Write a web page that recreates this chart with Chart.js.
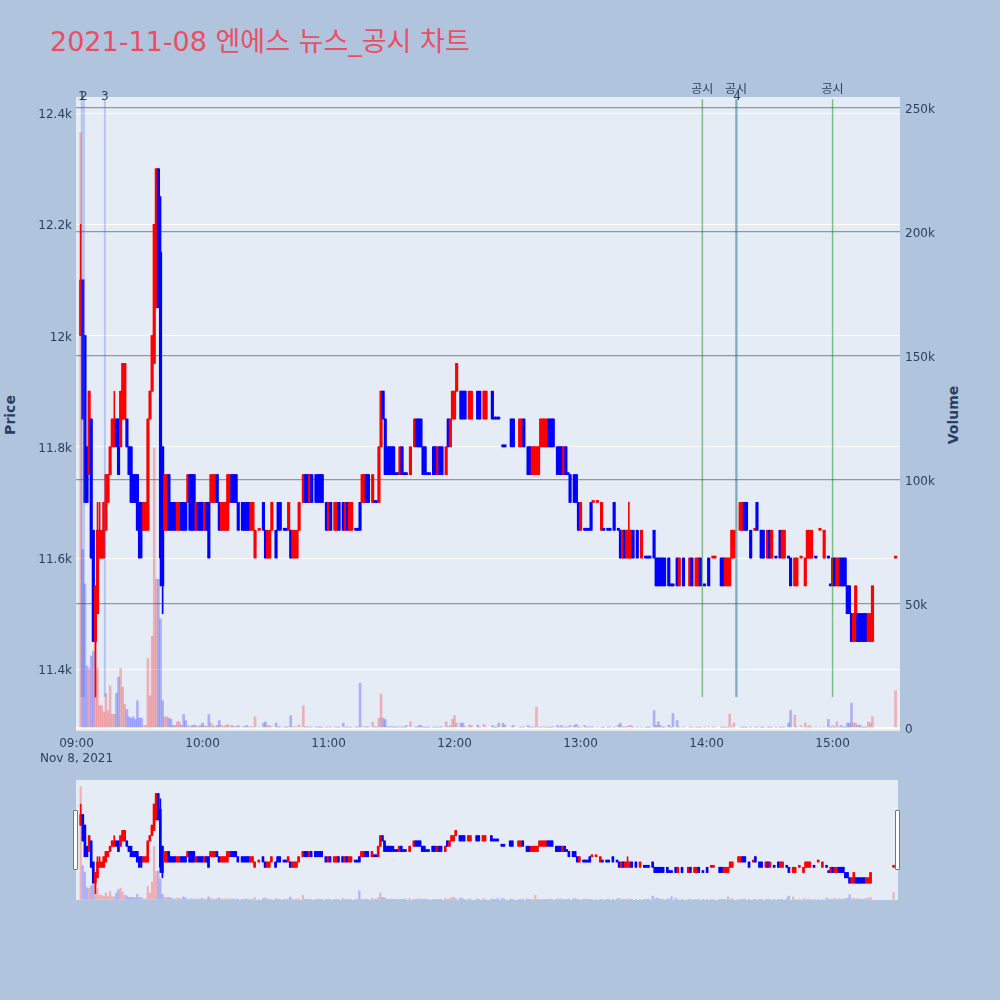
<!DOCTYPE html>
<html lang="ko">
<head>
<meta charset="utf-8">
<title>엔에스 뉴스_공시 차트</title>
<script src="https://cdn.jsdelivr.net/npm/chart.js@4.4.1/dist/chart.umd.min.js"></script>
<style>
  body { margin: 0; background: #b0c4de; font-family: "DejaVu Sans", "Noto Sans CJK KR", sans-serif; }
  #wrap { position: relative; width: 1000px; height: 1000px; overflow: hidden; }
  #title { position: absolute; left: 50px; top: 26px; font-size: 27px; line-height: 32px; color: rgb(235, 78, 100); white-space: nowrap; }
  .axis-title { position: absolute; font-size: 14px; font-weight: bold; color: #2a3f5f; transform: translate(-50%, -50%) rotate(-90deg); white-space: nowrap; }
  #mainChart { position: absolute; left: 0; top: 0; }
  #sliderChart { position: absolute; left: 76px; top: 780px; background: #e5ecf6; }
  .handle { position: absolute; top: 810px; width: 3px; height: 58px; background: #fff; border: 1px solid #777; border-radius: 1px; }
</style>
</head>
<body>
<div id="wrap">
  <div id="title">2021-11-08 엔에스 뉴스_공시 차트</div>
  <div class="axis-title" style="left:10px; top:415px;">Price</div>
  <div class="axis-title" style="left:953px; top:415px;">Volume</div>
  <canvas id="mainChart" width="1000" height="770"></canvas>
  <canvas id="sliderChart" width="822" height="120"></canvas>
  <div class="handle" style="left:73px;"></div>
  <div class="handle" style="left:895px;"></div>
</div>
<script>
// minute candles (time, open, high, low, close, volume)
var times = [
  "09:02","09:03","09:04","09:05","09:06","09:07","09:08","09:09","09:10","09:11",
  "09:12","09:13","09:14","09:15","09:16","09:17","09:18","09:19","09:20","09:21",
  "09:22","09:23","09:24","09:25","09:26","09:27","09:28","09:29","09:30","09:31",
  "09:32","09:33","09:34","09:35","09:36","09:37","09:38","09:39","09:40","09:41",
  "09:42","09:43","09:44","09:45","09:46","09:47","09:48","09:49","09:50","09:51",
  "09:52","09:53","09:54","09:55","09:56","09:57","09:58","09:59","10:00","10:01",
  "10:02","10:03","10:04","10:05","10:06","10:07","10:08","10:09","10:10","10:11",
  "10:12","10:13","10:14","10:15","10:16","10:17","10:19","10:20","10:21","10:22",
  "10:23","10:24","10:25","10:27","10:29","10:30","10:31","10:32","10:33","10:35",
  "10:36","10:37","10:39","10:40","10:41","10:42","10:43","10:44","10:45","10:46",
  "10:48","10:49","10:50","10:51","10:52","10:54","10:55","10:56","10:57","10:59",
  "11:00","11:01","11:03","11:04","11:05","11:07","11:08","11:09","11:10","11:11",
  "11:13","11:14","11:15","11:16","11:17","11:18","11:19","11:21","11:22","11:23",
  "11:24","11:25","11:26","11:27","11:28","11:29","11:30","11:31","11:32","11:33",
  "11:34","11:35","11:36","11:37","11:39","11:41","11:42","11:43","11:44","11:45",
  "11:46","11:47","11:48","11:50","11:51","11:52","11:53","11:54","11:56","11:57",
  "11:58","11:59","12:00","12:01","12:03","12:04","12:05","12:07","12:08","12:11",
  "12:12","12:14","12:15","12:18","12:19","12:20","12:21","12:23","12:24","12:27",
  "12:28","12:31","12:32","12:33","12:35","12:36","12:37","12:38","12:39","12:40",
  "12:41","12:42","12:43","12:44","12:45","12:46","12:47","12:49","12:50","12:51",
  "12:52","12:53","12:54","12:55","12:57","12:58","12:59","13:00","13:02","13:03",
  "13:04","13:05","13:06","13:08","13:10","13:11","13:13","13:14","13:16","13:18",
  "13:19","13:20","13:21","13:22","13:23","13:24","13:25","13:27","13:29","13:31",
  "13:32","13:33","13:35","13:36","13:37","13:38","13:39","13:40","13:42","13:43",
  "13:44","13:46","13:47","13:49","13:52","13:53","13:55","13:56","13:57","13:59",
  "14:01","14:03","14:04","14:07","14:08","14:09","14:10","14:11","14:12","14:13",
  "14:16","14:17","14:18","14:19","14:21","14:23","14:24","14:26","14:27","14:29",
  "14:30","14:31","14:33","14:35","14:36","14:37","14:39","14:40","14:42","14:43",
  "14:45","14:47","14:48","14:49","14:50","14:52","14:54","14:56","14:58","14:59",
  "15:00","15:01","15:02","15:03","15:04","15:05","15:06","15:07","15:08","15:09",
  "15:10","15:11","15:12","15:13","15:14","15:15","15:16","15:17","15:18","15:19",
  "15:30"
];
var opens = [
  12000,12100,12000,11800,11750,11850,11650,11450,11500,11600,
  11600,11600,11650,11700,11750,11800,11800,11850,11850,11800,
  11850,11850,11850,11800,11800,11750,11750,11750,11700,11700,
  11650,11650,11650,11850,11900,11950,12050,12300,12150,11800,
  11650,11650,11750,11700,11700,11700,11650,11650,11700,11700,
  11700,11700,11750,11750,11750,11650,11700,11700,11700,11650,
  11700,11700,11700,11700,11700,11750,11700,11650,11650,11650,
  11650,11700,11750,11750,11750,11700,11700,11700,11700,11700,
  11650,11650,11600,11650,11700,11650,11600,11600,11650,11650,
  11700,11700,11650,11650,11650,11650,11600,11600,11600,11650,
  11700,11750,11750,11700,11750,11750,11750,11750,11750,11700,
  11650,11700,11650,11650,11700,11700,11650,11700,11650,11650,
  11650,11650,11700,11700,11700,11750,11750,11700,11700,11700,
  11700,11800,11900,11850,11800,11800,11800,11800,11750,11750,
  11750,11800,11750,11750,11750,11800,11850,11850,11850,11800,
  11800,11750,11750,11800,11800,11750,11800,11800,11750,11850,
  11800,11850,11850,11900,11900,11900,11900,11850,11850,11900,
  11900,11850,11850,11900,11850,11850,11850,11800,11800,11850,
  11850,11800,11800,11850,11800,11800,11750,11750,11750,11750,
  11800,11800,11800,11800,11850,11850,11850,11800,11800,11800,
  11750,11800,11750,11750,11750,11750,11700,11650,11650,11650,
  11650,11700,11700,11700,11650,11650,11650,11650,11700,11650,
  11650,11600,11650,11600,11600,11600,11650,11650,11600,11600,
  11600,11600,11650,11600,11600,11600,11600,11600,11600,11550,
  11550,11600,11550,11600,11550,11600,11550,11550,11600,11550,
  11600,11600,11600,11600,11600,11550,11550,11550,11600,11600,
  11650,11650,11700,11700,11650,11650,11700,11650,11650,11600,
  11650,11600,11600,11650,11600,11600,11600,11600,11550,11550,
  11600,11550,11600,11600,11600,11600,11650,11600,11600,11550,
  11550,11600,11550,11550,11600,11600,11600,11550,11550,11500,
  11450,11450,11500,11500,11500,11500,11500,11450,11450,11450,
  11600
];
var highs = [
  12200,12100,12000,11800,11900,11850,11650,11550,11700,11700,
  11650,11700,11750,11750,11800,11850,11900,11850,11850,11900,
  11950,11950,11850,11800,11800,11750,11750,11750,11700,11700,
  11700,11700,11850,11900,12000,12200,12300,12300,12250,11800,
  11750,11750,11750,11700,11700,11700,11700,11700,11700,11700,
  11700,11750,11750,11750,11750,11700,11700,11700,11700,11700,
  11700,11700,11750,11750,11750,11750,11700,11700,11700,11700,
  11750,11750,11750,11750,11750,11700,11700,11700,11700,11700,
  11700,11700,11650,11650,11700,11650,11650,11650,11700,11650,
  11700,11700,11650,11650,11700,11650,11650,11650,11650,11700,
  11750,11750,11750,11750,11750,11750,11750,11750,11750,11700,
  11700,11700,11700,11700,11700,11700,11700,11700,11700,11700,
  11650,11650,11700,11750,11750,11750,11750,11750,11700,11700,
  11800,11900,11900,11850,11800,11800,11800,11800,11750,11750,
  11800,11800,11750,11750,11800,11850,11850,11850,11850,11800,
  11800,11750,11750,11800,11800,11800,11800,11800,11800,11850,
  11850,11900,11900,11950,11900,11900,11900,11900,11900,11900,
  11900,11900,11900,11900,11850,11850,11850,11800,11800,11850,
  11850,11850,11850,11850,11800,11800,11800,11800,11800,11800,
  11850,11850,11850,11850,11850,11850,11850,11800,11800,11800,
  11800,11800,11750,11750,11750,11750,11700,11700,11650,11650,
  11650,11700,11700,11700,11700,11650,11650,11650,11700,11650,
  11650,11650,11650,11650,11700,11650,11650,11650,11650,11600,
  11600,11600,11650,11600,11600,11600,11600,11600,11600,11550,
  11550,11600,11600,11600,11600,11600,11600,11600,11600,11550,
  11600,11600,11600,11600,11600,11600,11600,11600,11650,11650,
  11700,11700,11700,11700,11650,11650,11700,11650,11650,11650,
  11650,11650,11600,11650,11650,11650,11600,11600,11600,11600,
  11600,11600,11650,11650,11650,11600,11650,11650,11600,11550,
  11600,11600,11600,11600,11600,11600,11600,11550,11550,11500,
  11500,11550,11500,11500,11500,11500,11500,11500,11500,11550,
  11600
];
var lows = [
  12000,11850,11700,11700,11750,11600,11450,11350,11500,11600,
  11600,11600,11650,11700,11750,11800,11800,11800,11750,11800,
  11850,11850,11800,11750,11700,11700,11700,11650,11600,11600,
  11650,11650,11650,11850,11900,11950,12050,12050,11550,11500,
  11650,11650,11650,11650,11650,11650,11650,11650,11650,11650,
  11650,11700,11650,11650,11650,11650,11650,11650,11650,11650,
  11650,11600,11700,11700,11700,11700,11650,11650,11650,11650,
  11650,11700,11700,11700,11700,11650,11650,11650,11650,11650,
  11650,11650,11600,11650,11650,11600,11600,11600,11650,11600,
  11650,11650,11650,11650,11650,11600,11600,11600,11600,11650,
  11700,11700,11700,11700,11700,11700,11700,11700,11700,11650,
  11650,11650,11650,11650,11650,11650,11650,11650,11650,11650,
  11650,11650,11650,11700,11700,11700,11700,11700,11700,11700,
  11700,11800,11850,11750,11750,11750,11750,11750,11750,11750,
  11750,11750,11750,11750,11750,11800,11800,11800,11800,11750,
  11750,11750,11750,11750,11750,11750,11750,11750,11750,11800,
  11800,11850,11850,11900,11850,11850,11850,11850,11850,11850,
  11850,11850,11850,11850,11850,11850,11850,11800,11800,11800,
  11800,11800,11800,11800,11750,11750,11750,11750,11750,11750,
  11800,11800,11800,11800,11800,11800,11800,11750,11750,11750,
  11750,11750,11750,11700,11700,11700,11650,11650,11650,11650,
  11650,11650,11700,11700,11650,11650,11650,11650,11650,11650,
  11600,11600,11600,11600,11600,11600,11600,11600,11600,11600,
  11600,11600,11600,11550,11550,11550,11550,11550,11550,11550,
  11550,11550,11550,11550,11550,11550,11550,11550,11550,11550,
  11550,11600,11600,11550,11550,11550,11550,11550,11600,11600,
  11650,11650,11650,11650,11600,11650,11650,11600,11600,11600,
  11600,11600,11600,11600,11600,11600,11600,11550,11550,11550,
  11600,11550,11600,11600,11600,11600,11650,11600,11600,11550,
  11550,11550,11550,11550,11550,11550,11550,11500,11500,11450,
  11450,11450,11450,11450,11450,11450,11450,11450,11450,11450,
  11600
];
var closes = [
  12100,11850,11700,11700,11900,11600,11450,11550,11650,11650,
  11650,11700,11750,11750,11800,11850,11850,11800,11750,11900,
  11950,11950,11800,11750,11700,11700,11700,11650,11600,11650,
  11700,11700,11850,11900,12000,12200,12300,12050,11600,11550,
  11750,11750,11650,11650,11650,11650,11700,11700,11650,11650,
  11650,11750,11650,11650,11650,11700,11650,11650,11650,11700,
  11650,11600,11750,11750,11750,11700,11650,11700,11700,11700,
  11750,11750,11700,11700,11700,11650,11650,11650,11650,11650,
  11700,11700,11650,11650,11650,11600,11650,11650,11700,11600,
  11650,11650,11650,11650,11700,11600,11650,11650,11650,11700,
  11750,11700,11700,11750,11700,11700,11700,11700,11700,11650,
  11700,11650,11700,11700,11650,11650,11700,11650,11700,11700,
  11650,11650,11650,11750,11750,11700,11700,11750,11700,11700,
  11800,11900,11850,11750,11750,11750,11750,11750,11750,11750,
  11800,11750,11750,11750,11800,11850,11800,11800,11800,11750,
  11750,11750,11750,11750,11750,11800,11750,11750,11800,11800,
  11850,11900,11900,11950,11850,11850,11850,11900,11900,11850,
  11850,11900,11900,11850,11850,11850,11850,11800,11800,11800,
  11800,11850,11850,11800,11750,11750,11800,11800,11800,11800,
  11850,11850,11850,11850,11800,11800,11800,11750,11750,11750,
  11800,11750,11750,11700,11700,11700,11650,11700,11650,11650,
  11650,11650,11700,11700,11700,11650,11650,11650,11650,11650,
  11600,11650,11600,11650,11650,11650,11600,11600,11650,11600,
  11600,11600,11600,11550,11550,11550,11550,11550,11550,11550,
  11550,11550,11600,11550,11600,11550,11600,11600,11550,11550,
  11550,11600,11600,11550,11550,11600,11600,11600,11650,11650,
  11700,11700,11650,11650,11600,11650,11650,11600,11600,11650,
  11600,11650,11600,11600,11650,11650,11600,11550,11600,11600,
  11600,11600,11650,11650,11650,11600,11650,11650,11600,11550,
  11600,11550,11600,11600,11550,11550,11550,11500,11500,11450,
  11500,11550,11450,11450,11450,11450,11450,11500,11500,11550,
  11600
];
var volumes = [
  240000,72000,58000,25000,24000,29000,31000,45000,24000,9000,
  9000,6500,14000,7000,17000,5500,5500,14000,20500,24000,
  16500,9500,7500,4500,4000,4500,3500,11000,4000,4000,
  1000,1000,28000,13000,37000,113000,60000,60000,44000,11000,
  4500,4500,4000,3500,1000,1000,2500,2500,1000,5500,
  3000,1000,500,1000,1200,1000,500,1000,2000,1000,
  500,5500,2000,1000,500,1000,3000,1000,500,1000,
  1500,500,1000,500,500,1000,500,500,1000,500,
  500,300,4500,300,2000,2500,1000,1000,500,2000,
  300,500,300,300,500,5000,500,500,500,1200,
  9000,500,300,500,300,300,500,300,300,300,
  500,300,300,300,300,2000,300,300,300,300,
  300,500,18000,500,300,500,300,2400,500,300,
  4000,13700,4000,3400,500,300,600,300,300,300,
  500,300,300,1000,2500,500,300,1000,1000,300,
  300,300,300,300,300,300,300,500,2500,500,
  1000,3500,5000,2000,2000,2000,500,1200,1000,1200,
  300,1500,500,1000,300,300,2000,2000,1200,500,
  1000,300,300,500,1000,300,300,300,8500,300,
  300,500,300,300,300,300,500,1000,300,1000,
  300,300,300,1000,1000,1500,300,300,1000,300,
  500,300,300,300,300,300,300,500,300,1200,
  2000,300,300,500,1000,1000,300,300,300,300,
  300,300,7000,1000,2500,1000,300,300,1200,300,
  5900,3000,300,300,300,300,300,300,300,300,
  500,300,300,300,300,300,300,5600,300,2000,
  300,300,300,300,300,300,300,300,300,300,
  300,300,300,300,300,300,2000,7000,5200,300,
  1000,2000,300,1000,300,300,300,300,3500,300,
  1000,300,2500,300,1000,300,300,2000,2000,10000,
  2000,2000,1000,1200,300,300,300,2500,2000,4500,
  15000
];

// news items and disclosures (공시)
var newsTimes = ["09:02", "09:03", "09:13", "14:14"];
var newsLabels = ["1", "2", "3", "4"];
var disclosureTimes = ["13:58", "14:14", "15:00"];
var disclosureLabel = "공시";

// axis ticks
var timeTicks = ["09:00", "10:00", "11:00", "12:00", "13:00", "14:00", "15:00"];
var dateLabel = "Nov 8, 2021";
var priceTicks = [11400, 11600, 11800, 12000, 12200, 12400];
var volumeTicks = [0, 50000, 100000, 150000, 200000, 250000];

// axis ranges
var minuteRange = [-0.25, 392.1];
var priceRange = [11289, 12429];
var volumeRange = [-1200, 254400];
var lineSpan = [11350, 12425];

var UP = "#ff0000";
var DOWN = "#0000ff";
var UP_VOL = "rgba(255, 0, 0, 0.25)";
var DOWN_VOL = "rgba(0, 0, 255, 0.25)";
var FONT = "'DejaVu Sans', 'Noto Sans CJK KR', sans-serif";
var INK = "#2a3f5f";

// minutes after 09:00
function toMin(t) {
  var p = t.split(":");
  return (Number(p[0]) - 9) * 60 + Number(p[1]);
}

var xs = times.map(toMin);

// red when the close goes up, blue when it goes down
var rising = [];
for (var i = 0; i < closes.length; i++) {
  if (closes[i] > opens[i]) rising.push(true);
  else if (closes[i] < opens[i]) rising.push(false);
  else if (i > 0 && closes[i] !== closes[i - 1]) rising.push(closes[i] > closes[i - 1]);
  else rising.push(i > 0 ? rising[i - 1] : true);
}

function buildDatasets(bodyW, wickW, volW) {
  return [
    {
      label: "body",
      data: xs.map(function (x, i) { return { x: x, y: [opens[i], closes[i]] }; }),
      backgroundColor: rising.map(function (r) { return r ? UP : DOWN; }),
      barThickness: bodyW,
      minBarLength: 2,
      grouped: false,
      yAxisID: "y",
      order: 1,
    },
    {
      label: "wick",
      data: xs.map(function (x, i) { return { x: x, y: [lows[i], highs[i]] }; }),
      backgroundColor: rising.map(function (r) { return r ? UP : DOWN; }),
      barThickness: wickW,
      grouped: false,
      yAxisID: "y",
      order: 2,
    },
    {
      label: "volume",
      data: xs.map(function (x, i) { return { x: x, y: volumes[i] }; }),
      backgroundColor: rising.map(function (r) { return r ? UP_VOL : DOWN_VOL; }),
      barThickness: volW,
      grouped: false,
      yAxisID: "y2",
      order: 3,
    },
  ];
}

// plot background
var plotBg = {
  id: "plotBg",
  beforeDraw: function (chart) {
    var a = chart.chartArea;
    chart.ctx.save();
    chart.ctx.fillStyle = "#e5ecf6";
    chart.ctx.fillRect(a.left, a.top, a.right - a.left, a.bottom - a.top);
    chart.ctx.restore();
  },
};

// vertical lines for news and 공시
var newsLines = {
  id: "newsLines",
  afterDatasetsDraw: function (chart) {
    var ctx = chart.ctx;
    var xScale = chart.scales.x;
    var yScale = chart.scales.y;
    var y0 = yScale.getPixelForValue(lineSpan[0]);
    var y1 = yScale.getPixelForValue(lineSpan[1]);
    var top = chart.chartArea.top;
    ctx.save();
    ctx.font = "12px " + FONT;
    ctx.fillStyle = INK;
    ctx.textAlign = "center";
    ctx.textBaseline = "middle";

    disclosureTimes.forEach(function (t) {
      var px = xScale.getPixelForValue(toMin(t));
      ctx.strokeStyle = "rgba(0, 128, 0, 0.45)";
      ctx.lineWidth = 1.5;
      ctx.beginPath();
      ctx.moveTo(px, y0);
      ctx.lineTo(px, y1);
      ctx.stroke();
      ctx.fillText(disclosureLabel, px, top - 7);
    });

    newsTimes.forEach(function (t, i) {
      var px = xScale.getPixelForValue(toMin(t)) + 1;
      ctx.strokeStyle = "rgba(65, 105, 225, 0.3)";
      ctx.lineWidth = 2;
      ctx.beginPath();
      ctx.moveTo(px, y0);
      ctx.lineTo(px, y1);
      ctx.stroke();
      ctx.fillText(newsLabels[i], px, top);
    });
    ctx.restore();
  },
};

function setTicks(values) {
  return function (scale) {
    scale.ticks = values.map(function (v) { return { value: v }; });
  };
}

window.onload = function () {
  Chart.defaults.font.family = FONT;
  Chart.defaults.font.size = 12;
  Chart.defaults.color = INK;

  // main candlestick chart
  new Chart(document.getElementById("mainChart").getContext("2d"), {
    type: "bar",
    data: { datasets: buildDatasets(2.5, 1, 2) },
    options: {
      responsive: false,
      animation: false,
      events: [],
      layout: { padding: { top: 97, left: 0, right: 0, bottom: 0 } },
      plugins: { legend: { display: false }, tooltip: { enabled: false } },
      scales: {
        x: {
          type: "linear",
          min: minuteRange[0],
          max: minuteRange[1],
          offset: false,
          grid: { display: false },
          border: { display: false },
          afterBuildTicks: setTicks(timeTicks.map(toMin)),
          afterFit: function (s) { s.height = 39; },
          ticks: {
            autoSkip: false,
            maxRotation: 0,
            padding: -2,
            callback: function (v) {
              var h = Math.floor(v / 60) + 9;
              var label = (h < 10 ? "0" : "") + h + ":00";
              return v === 0 ? [label, dateLabel] : label;
            },
          },
        },
        y: {
          position: "left",
          min: priceRange[0],
          max: priceRange[1],
          grid: { color: "#ffffff", lineWidth: 1, drawTicks: false },
          border: { display: false },
          afterBuildTicks: setTicks(priceTicks),
          afterFit: function (s) { s.width = 76; },
          ticks: {
            padding: 4,
            labelOffset: 2,
            callback: function (v) { return v / 1000 + "k"; },
          },
        },
        y2: {
          position: "right",
          min: volumeRange[0],
          max: volumeRange[1],
          grid: {
            color: function (c) { return c.tick && c.tick.value === 0 ? "#ffffff" : "rgb(150, 150, 150)"; },
            lineWidth: function (c) { return c.tick && c.tick.value === 0 ? 2 : 1.2; },
            drawTicks: false,
          },
          border: { display: false },
          afterBuildTicks: setTicks(volumeTicks),
          afterFit: function (s) { s.width = 100; },
          ticks: {
            padding: 5,
            labelOffset: 2,
            callback: function (v) { return v === 0 ? "0" : v / 1000 + "k"; },
          },
        },
      },
    },
    plugins: [plotBg, newsLines],
  });

  // range slider preview
  new Chart(document.getElementById("sliderChart").getContext("2d"), {
    type: "bar",
    data: { datasets: buildDatasets(2, 1, 1.5) },
    options: {
      responsive: false,
      animation: false,
      events: [],
      layout: { padding: 0 },
      plugins: { legend: { display: false }, tooltip: { enabled: false } },
      scales: {
        x: { type: "linear", display: false, min: minuteRange[0], max: minuteRange[1], offset: false },
        y: { display: false, min: priceRange[0], max: priceRange[1] },
        y2: { display: false, position: "right", min: volumeRange[0], max: volumeRange[1] },
      },
    },
  });
};
</script>
</body>
</html>
